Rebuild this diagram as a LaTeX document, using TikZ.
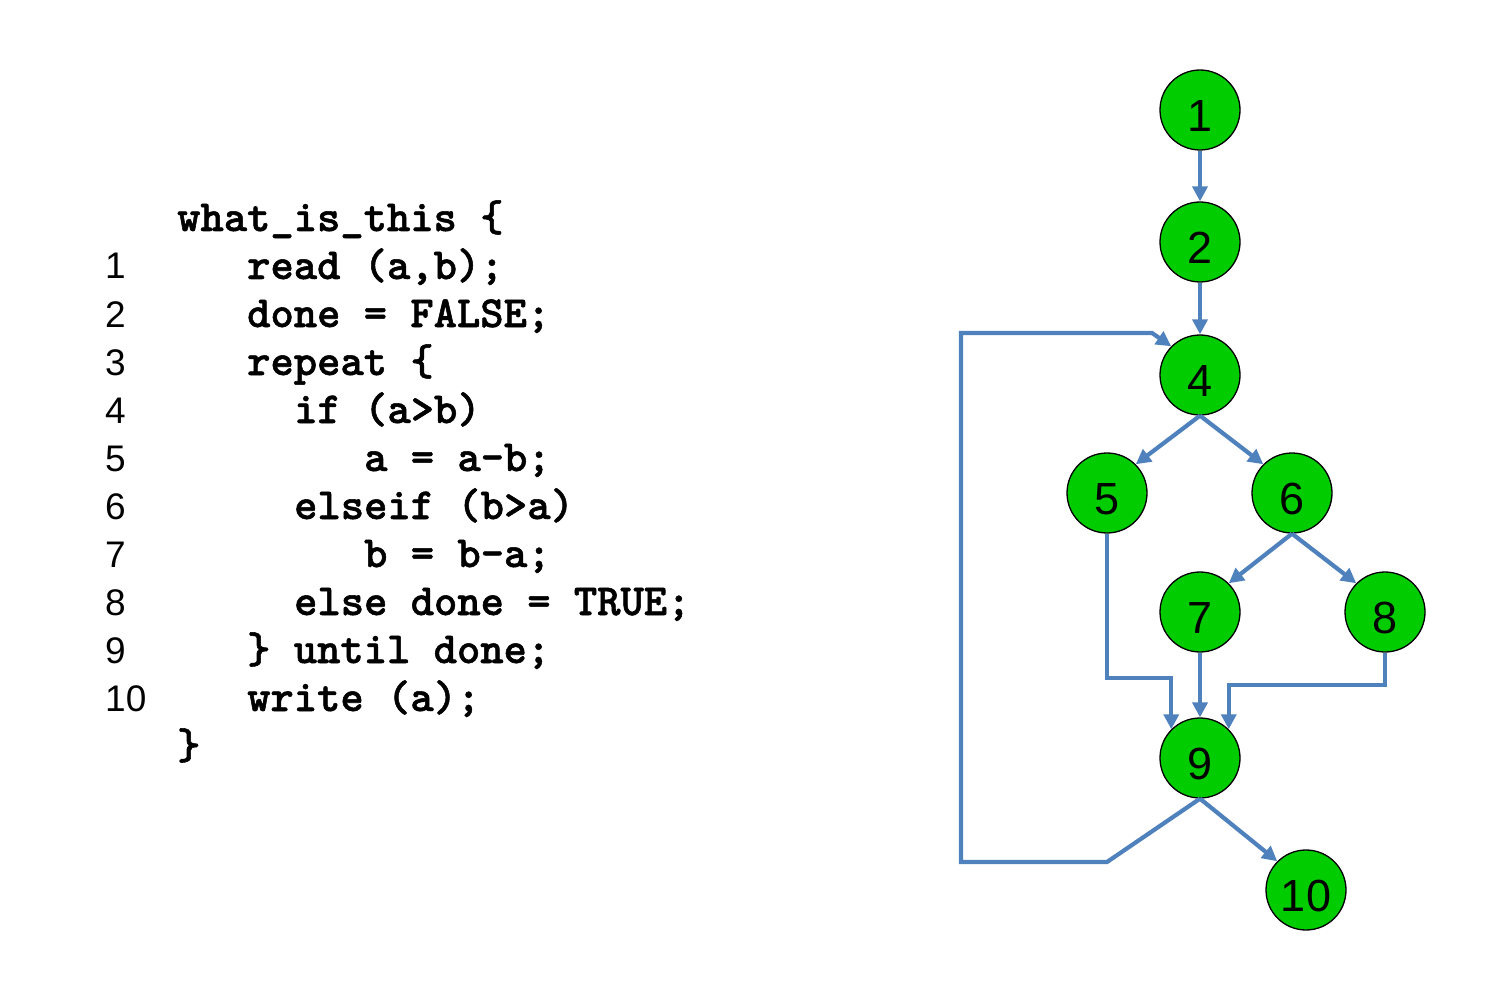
\documentclass[tikz,border=0pt]{standalone}
\usepackage{fontspec}
\setmainfont{Liberation Sans}
\newfontfamily\codefont{lmmonolt10-bold.otf}[FakeBold=1.2]
\usetikzlibrary{arrows.meta}
\definecolor{edgeblue}{RGB}{79,129,189}
\definecolor{nodegreen}{RGB}{0,204,0}
\tikzset{
  vtx/.style={circle, draw=black, line width=1.3pt, fill=nodegreen, minimum size=80pt, inner sep=0pt,
    text height=43pt, text depth=0pt,
    font=\fontsize{45}{45}\selectfont, text=black},
  arr/.style={draw=edgeblue, line width=4.2pt, -{Triangle[length=15pt,width=15pt]}},
  codeline/.style={anchor=base west, inner sep=0pt, font=\codefont\fontsize{44.4}{46}\selectfont},
  numline/.style={anchor=base west, inner sep=0pt, font=\fontsize{37}{40}\selectfont},
}
\begin{document}
\begin{tikzpicture}[x=1pt,y=-1pt]
\useasboundingbox (0,0) rectangle (1486,1000);
% code
\node[codeline] (c0) at (177,231) {what\_is\_this \{};
\node[codeline] (c1) at (247,279) {read (a,b);};
\node[codeline] (c2) at (247,327) {done = FALSE;};
\node[codeline] (c3) at (247,375) {repeat \{};
\node[codeline] (c4) at (294,423) {if (a>b)};
\node[codeline] (c5) at (364,471) {a = a-b;};
\node[codeline] (c6) at (294,519) {elseif (b>a)};
\node[codeline] (c7) at (364,567) {b = b-a;};
\node[codeline] (c8) at (294,615) {else done = TRUE;};
\node[codeline] (c9) at (247,663) {\} until done;};
\node[codeline] (c10) at (247,711) {write (a);};
\node[codeline] (c11) at (177,759) {\}};
% line numbers
\node[numline] (n1) at (105,279) {1};
\node[numline] (n2) at (105,327) {2};
\node[numline] (n3) at (105,375) {3};
\node[numline] (n4) at (105,423) {4};
\node[numline] (n5) at (105,471) {5};
\node[numline] (n6) at (105,519) {6};
\node[numline] (n7) at (105,567) {7};
\node[numline] (n8) at (105,615) {8};
\node[numline] (n9) at (105,663) {9};
\node[numline] (n10) at (105,711) {10};
% graph nodes
\node[vtx] (v1) at (1200,110) {1};
\node[vtx] (v2) at (1200,242) {2};
\node[vtx] (v4) at (1200,375) {4};
\node[vtx] (v5) at (1107,493) {5};
\node[vtx] (v6) at (1292,493) {6};
\node[vtx] (v7) at (1200,612) {7};
\node[vtx] (v8) at (1385,612) {8};
\node[vtx] (v9) at (1200,758) {9};
\node[vtx] (v10) at (1306,890) {10};
% edges
\draw[arr] (v1.south) -- (v2.north);
\draw[arr] (v2.south) -- (v4.north);
\draw[arr] (v4.south) -- (v5.north east);
\draw[arr] (v4.south) -- (v6.north west);
\draw[arr] (v6.south) -- (v7.north east);
\draw[arr] (v6.south) -- (v8.north west);
\draw[arr] (v7.south) -- (v9.north);
\draw[arr] (v5.south) -- (v5.south |- 0,678) -| (v9.north west);
\draw[arr] (v8.south) -- (v8.south |- 0,685) -| (v9.north east);
\draw[arr] (v9.south) -- (v10.north west);
\coordinate (l1) at (1107,862);
\coordinate (l2) at (961,862);
\coordinate (l3) at (961,333);
\coordinate (l4) at (1152,333);
\draw[arr] (v9.south) -- (l1) -- (l2) -- (l3) -- (l4) -- (v4.north west);
\end{tikzpicture}
\end{document}
